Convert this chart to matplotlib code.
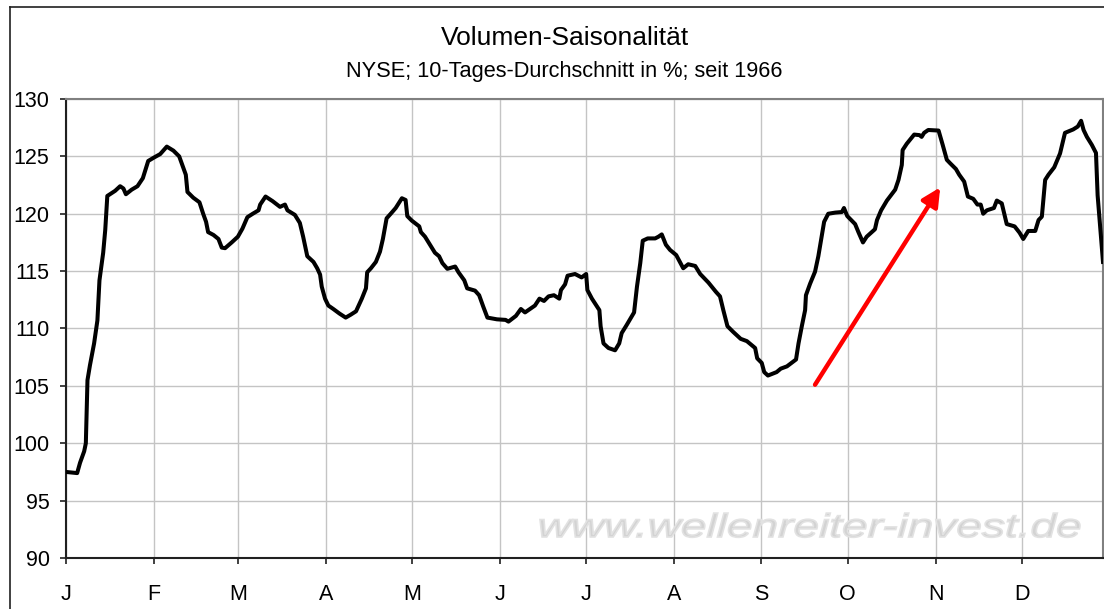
import matplotlib.pyplot as plt
from matplotlib.lines import Line2D
from matplotlib.textpath import TextPath
from matplotlib.patches import PathPatch
from matplotlib.font_manager import FontProperties
from matplotlib.transforms import Affine2D, IdentityTransform

# trading day of the year (0..251) and volume in % of average (10-day mean)
days = [0, 2.7, 3.4, 4.4, 4.8, 5.2, 5.8, 6.8, 7.6, 8.1, 9.0, 9.5, 10.0, 11.9, 13.1, 13.9,
        14.5, 15.9, 17.3, 18.6, 19.9, 21.3, 22.8, 24.4, 26.0, 27.4, 28.2, 29.0, 29.4, 30.8,
        32.3, 33.2, 33.9, 34.4, 35.7, 36.9, 37.7, 38.5, 40.1, 41.6, 42.7, 43.9, 45.2, 46.6,
        47.0, 48.3, 50.0, 51.8, 53.0, 53.6, 55.4, 56.6, 57.4, 58.4, 59.9, 60.8, 61.5, 61.9,
        62.7, 63.5, 64.7, 66.2, 67.7, 68.9, 70.2, 71.6, 72.6, 72.9, 73.8, 75.0, 76.0, 76.7,
        77.6, 78.6, 79.8, 81.3, 82.2, 82.6, 83.7, 85.5, 85.9, 86.9, 88.1, 89.3, 90.3, 91.1,
        92.3, 94.2, 95.0, 96.4, 97.1, 99.0, 100.0, 101.0, 102.0, 104.3, 106.4, 107.1, 108.9,
        110.1, 111.1, 112.3, 113.5, 114.6, 115.7, 116.8, 118.1, 119.4, 119.8, 120.8, 121.4,
        123.2, 124.8, 125.9, 126.2, 127.3, 129.1, 129.4, 130.1, 131.3, 132.9, 133.9, 134.5,
        135.7, 137.5, 138.2, 139.0, 139.6, 140.8, 142.6, 143.4, 144.2, 145.2, 146.2, 147.7,
        148.6, 149.4, 150.6, 152.3, 153.5, 155.5, 157.3, 158.3, 159.1, 160.1, 161.5, 163.3,
        164.8, 166.8, 167.3, 168.4, 169.0, 169.9, 172.0, 173.0, 174.5, 176.7, 177.3, 178.1,
        178.9, 179.1, 180.1, 181.3, 182.1, 182.9, 183.5, 184.5, 186.2, 187.8, 188.3, 189.1,
        191.0, 191.8, 192.9, 193.8, 195.8, 196.3, 197.3, 198.7, 200.7, 201.5, 202.3, 202.5,
        203.5, 205.3, 206.6, 207.1, 207.7, 208.7, 211.2, 212.2, 213.2, 214.0, 215.4, 216.2,
        217.4, 218.3, 219.6, 220.6, 221.4, 222.0, 222.9, 224.6, 225.3, 226.5, 227.7, 229.6,
        230.8, 231.7, 232.9, 234.6, 235.4, 236.2, 237.0, 237.8, 239.2, 240.6, 241.8, 243.8,
        244.9, 245.7, 246.3, 247.1, 248.3, 249.3, 249.7, 251.0]
volume = [97.5, 97.4, 98.3, 99.3, 100.0, 105.5, 106.8, 108.7, 110.7, 114.2, 116.6, 118.6,
          121.55, 122.0, 122.4, 122.2, 121.7, 122.1, 122.4, 123.1, 124.6, 124.9, 125.2, 125.85,
          125.5, 125.0, 124.2, 123.4, 121.9, 121.4, 121.0, 120.0, 119.3, 118.4, 118.15, 117.8,
          117.05, 117.0, 117.5, 118.0, 118.7, 119.7, 120.0, 120.3, 120.8, 121.5, 121.1, 120.6,
          120.8, 120.3, 119.9, 119.2, 118.0, 116.3, 115.8, 115.25, 114.7, 113.65, 112.6, 112.0,
          111.7, 111.3, 110.95, 111.2, 111.5, 112.6, 113.5, 114.9, 115.25, 115.8, 116.7, 117.8,
          119.6, 120.0, 120.5, 121.35, 121.2, 119.8, 119.4, 118.9, 118.4, 118.0, 117.3, 116.6,
          116.3, 115.7, 115.2, 115.4, 114.9, 114.2, 113.5, 113.3, 112.9, 111.9, 110.95, 110.8,
          110.75, 110.6, 111.1, 111.7, 111.4, 111.7, 112.0, 112.6, 112.4, 112.8, 112.9, 112.6,
          113.35, 113.85, 114.6, 114.75, 114.45, 114.75, 113.35, 112.6, 111.6, 110.2, 108.7,
          108.3, 108.1, 108.7, 109.6, 110.3, 111.4, 113.65, 115.7, 117.65, 117.85, 117.85,
          118.0, 118.2, 117.3, 116.85, 116.4, 115.8, 115.25, 115.6, 115.45, 114.75, 114.0,
          113.2, 112.8, 111.6, 110.2, 109.7, 109.1, 108.9, 108.3, 107.4, 107.0, 106.2, 105.9,
          106.2, 106.5, 106.7, 107.3, 108.7, 110.2, 111.6, 112.9, 113.9, 114.95, 116.3, 118.0,
          119.3, 120.0, 120.1, 120.15, 120.5, 119.8, 119.1, 118.4, 117.5, 118.0, 118.65, 119.45,
          120.3, 121.15, 122.1, 122.95, 124.25, 125.55, 126.1, 126.9, 126.85, 126.7, 127.05,
          127.3, 127.25, 126.0, 124.7, 124.4, 123.9, 123.4, 122.8, 121.5, 121.3, 120.8, 120.8,
          120.0, 120.3, 120.5, 121.15, 120.9, 119.1, 118.9, 118.35, 117.8, 118.5, 118.5, 119.45,
          119.75, 122.95, 123.4, 124.05, 125.25, 127.05, 127.35, 127.6, 128.1, 127.3, 126.7,
          126.0, 125.3, 121.6, 115.8]

# first trading day of each month
month_starts = [0, 21.3, 41.6, 62.9, 83.7, 105.0, 125.8, 147.1, 168.3, 189.2, 210.5, 231.3]
month_labels = ['J', 'F', 'M', 'A', 'M', 'J', 'J', 'A', 'S', 'O', 'N', 'D']

# red arrow: start and end (day, value)
arrow_from = (181.3, 105.1)
arrow_to = (211.6, 122.3)

plt.rcParams['font.family'] = ['Liberation Sans', 'DejaVu Sans']

W, H = 1104, 609
fig = plt.figure(figsize=(W / 100, H / 100), dpi=100)
ax = fig.add_axes([66 / W, (H - 558) / H, (1103 - 66) / W, (558 - 99) / H])

ax.plot(days, volume, color='black', linewidth=2.9, solid_joinstyle='round', zorder=3)

ax.annotate('', xy=arrow_to, xytext=arrow_from,
            arrowprops=dict(arrowstyle='-|>,head_length=1.1,head_width=0.55',
                            color='#ff0000', lw=3.2, shrinkA=0, shrinkB=0),
            zorder=4)

# watermark, stretched wide like in the original
wm_prop = FontProperties(family='Liberation Sans', style='italic')
wm = TextPath((0, 0), 'www.wellenreiter-invest.de', size=33, prop=wm_prop)
ext = wm.get_extents()
sx = 540 / ext.width
wm_tr = Affine2D().translate(-ext.x0, 0).scale(sx, 1).translate(540, H - 537)
fig.patches.append(PathPatch(wm, transform=wm_tr + IdentityTransform(), facecolor='#d3d3d3',
                             edgecolor='#e2e2e2', linewidth=1.2, zorder=1))

ax.set_xlim(0, 251)
ax.set_ylim(90, 130)
ax.set_yticks(range(90, 131, 5))
ax.set_xticks(month_starts)
ax.set_xticklabels(month_labels)
ax.tick_params(axis='both', labelsize=15.5, length=4.3, width=1.2, color='#202020', direction='out')
ax.tick_params(axis='x', pad=14.5)
ax.tick_params(axis='y', pad=7.5)

ax.grid(True, color='#c4c4c4', linewidth=1.0, zorder=0)
ax.set_axisbelow(True)
for side in ['left', 'bottom']:
    ax.spines[side].set_color('#202020')
    ax.spines[side].set_linewidth(1.5)
for side in ['top', 'right']:
    ax.spines[side].set_color('#808080')
    ax.spines[side].set_linewidth(1.5)

fig.text(565 / W, 1 - 38 / H, 'Volumen-Saisonalität', ha='center', va='center', fontsize=19)
fig.text(564 / W, 1 - 71 / H, 'NYSE; 10-Tages-Durchschnitt in %; seit 1966',
         ha='center', va='center', fontsize=15.7)

# outer chart frame
fig.add_artist(Line2D([10 / W, 1], [1 - 7 / H, 1 - 7 / H], transform=fig.transFigure,
                      color='#202020', linewidth=1.2))
fig.add_artist(Line2D([10 / W, 10 / W], [0, 1 - 7 / H], transform=fig.transFigure,
                      color='#202020', linewidth=1.2))

fig.savefig('out.png', dpi=100)
